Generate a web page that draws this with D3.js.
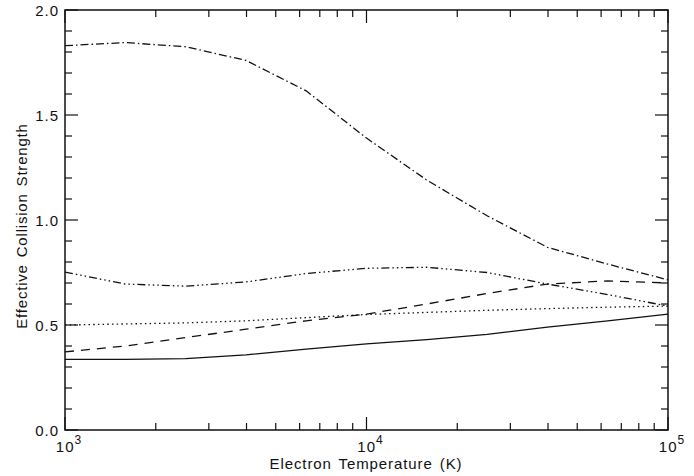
<!DOCTYPE html>
<html><head><meta charset="utf-8">
<script src="https://cdn.jsdelivr.net/npm/d3@7"></script>
<style>body{margin:0;background:#fff}svg{display:block}text{font-family:"Liberation Sans",Arial,sans-serif;fill:#111}</style>
</head><body>
<svg id="c" width="694" height="476"></svg>
<script>
const temps = [1000, 1585, 2512, 3981, 6310, 10000, 15849, 25119, 39811, 63096, 100000];
const seriesDashDot = [1.83, 1.845, 1.825, 1.76, 1.615, 1.39, 1.19, 1.02, 0.87, 0.79, 0.715];
const seriesDashDotDot = [0.752, 0.695, 0.685, 0.705, 0.745, 0.77, 0.775, 0.75, 0.695, 0.645, 0.59];
const seriesDashed = [0.372, 0.40, 0.44, 0.48, 0.52, 0.552, 0.60, 0.65, 0.695, 0.71, 0.70];
const seriesDotted = [0.50, 0.505, 0.51, 0.52, 0.535, 0.55, 0.56, 0.57, 0.578, 0.585, 0.59];
const seriesSolid = [0.336, 0.336, 0.34, 0.358, 0.385, 0.41, 0.43, 0.455, 0.49, 0.52, 0.552];
const yTicks = [0.0, 0.5, 1.0, 1.5, 2.0];
const xDecades = [3, 4, 5];

const svg = d3.select("#c");
const L = 65, R = 668, T = 10, B = 430;
const x = d3.scaleLog().domain([1e3, 1e5]).range([L, R]);
const y = d3.scaleLinear().domain([0, 2]).range([B, T]);

const series = [
  {v: seriesDashDot, dash: "8,3,1.5,3"},
  {v: seriesDashDotDot, dash: "8,3,1.5,3,1.5,3,1.5,3"},
  {v: seriesDashed, dash: "9,7"},
  {v: seriesDotted, dash: "1.5,3.2"},
  {v: seriesSolid, dash: null}
];
const line = d3.line().x(d => x(d[0])).y(d => y(d[1]));
series.forEach(s => {
  svg.append("path").attr("d", line(temps.map((t,i)=>[t,s.v[i]])))
    .attr("fill","none").attr("stroke","#111").attr("stroke-width",1.3)
    .attr("stroke-dasharray", s.dash);
});

// frame
svg.append("rect").attr("x",L).attr("y",T).attr("width",R-L).attr("height",B-T)
  .attr("fill","none").attr("stroke","#111").attr("stroke-width",1.5);

// y ticks
const yMinor = d3.range(0, 2.0001, 0.1);
yMinor.forEach(v => {
  const major = Math.abs(v*2 - Math.round(v*2)) < 1e-6;
  const len = major ? 13 : 7;
  svg.append("line").attr("x1",L).attr("x2",L+len).attr("y1",y(v)).attr("y2",y(v)).attr("stroke","#111").attr("stroke-width",1.2);
  svg.append("line").attr("x1",R).attr("x2",R-len).attr("y1",y(v)).attr("y2",y(v)).attr("stroke","#111").attr("stroke-width",1.2);
});
yTicks.forEach(v => {
  svg.append("text").attr("x",L-6).attr("y",y(v)+5.5).attr("text-anchor","end")
    .attr("font-size",15).attr("letter-spacing",1).text(v.toFixed(1));
});

// x ticks
const xt = [];
for (let d=3; d<5; d++) for (let m=1; m<10; m++) xt.push({v:m*Math.pow(10,d), major:m===1});
xt.push({v:1e5, major:true});
xt.forEach(t => {
  const len = t.major ? 13 : 7;
  const px = x(t.v);
  svg.append("line").attr("x1",px).attr("x2",px).attr("y1",B).attr("y2",B-len).attr("stroke","#111").attr("stroke-width",1.2);
  svg.append("line").attr("x1",px).attr("x2",px).attr("y1",T).attr("y2",T+len).attr("stroke","#111").attr("stroke-width",1.2);
});
xDecades.forEach(d => {
  const g = svg.append("text").attr("x",x(Math.pow(10,d))+4).attr("y",452).attr("text-anchor","middle").attr("font-size",15).attr("letter-spacing",1);
  g.append("tspan").text("10");
  g.append("tspan").attr("dy",-8).attr("font-size",12).text(String(d));
});

svg.append("text").attr("x",366).attr("y",469).attr("text-anchor","middle").attr("font-size",15)
  .attr("letter-spacing",0.9).attr("word-spacing",2).text("Electron Temperature (K)");
svg.append("text").attr("transform",`translate(27,226) rotate(-90)`).attr("text-anchor","middle").attr("font-size",15)
  .attr("letter-spacing",0.8).attr("word-spacing",2).text("Effective Collision Strength");
</script>
</body></html>
